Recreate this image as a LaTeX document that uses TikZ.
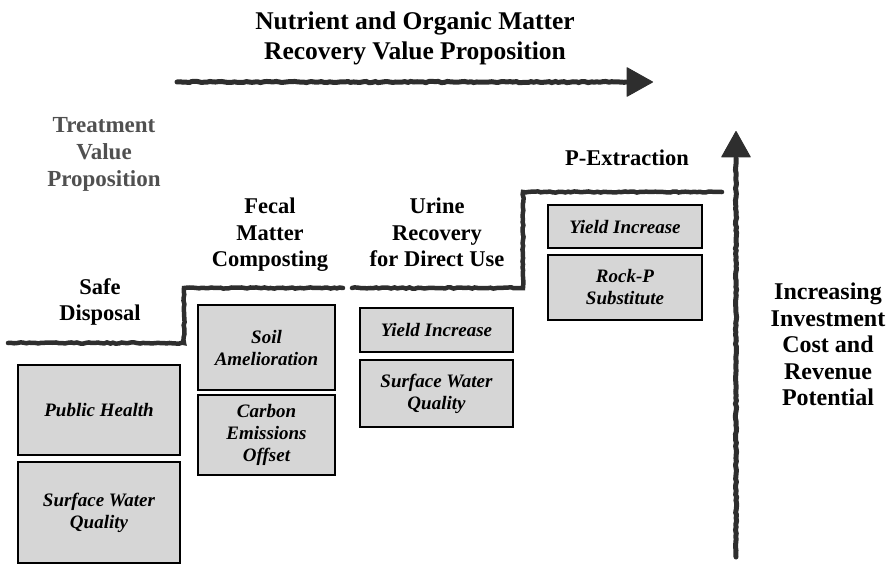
\documentclass[tikz,border=0pt]{standalone}
\usepackage{fontspec}
\setmainfont{Liberation Serif}
\usetikzlibrary{arrows.meta,decorations.pathmorphing}

\definecolor{ink}{HTML}{2E2E2E}
\definecolor{cardfill}{HTML}{D6D6D6}
\definecolor{softtext}{HTML}{505050}

\begin{document}
\begin{tikzpicture}[x=1pt,y=-1pt,
  brush/.style={draw=ink, line width=4.5pt, line cap=round,
    decorate, decoration={random steps, segment length=3pt, amplitude=0.6pt}},
  shaft/.style={brush, line width=5pt},
  tiphead/.style={draw=ink, fill=ink, line width=1pt,
    -{Triangle[length=27pt,width=30pt,round]}},
  title/.style={font=\fontsize{25.5pt}{30pt}\selectfont\bfseries, align=center, anchor=north, inner sep=0pt},
  heading/.style={font=\fontsize{22.5pt}{26.5pt}\selectfont\bfseries, align=center, anchor=north, inner sep=0pt},
  sidetext/.style={font=\fontsize{24pt}{26.5pt}\selectfont\bfseries, align=center, anchor=north, inner sep=0pt},
  card/.style={draw=black, line width=2pt, fill=cardfill, align=center,
    font=\fontsize{19pt}{22pt}\selectfont\bfseries\itshape, inner sep=2pt}
]
\pgfmathsetseed{7}
\useasboundingbox (0,0) rectangle (893,568);

% ---- titles and labels ----
\node[title] (nut) at (415,12) {Nutrient and Organic Matter\\Recovery Value Proposition};
\node[heading, text=softtext, font=\fontsize{23pt}{27pt}\selectfont\bfseries] (treat) at (104,117) {Treatment\\Value\\Proposition};
\node[heading] (safe) at (100,278) {Safe\\Disposal};
\node[heading] (fecal) at (270,198) {Fecal\\Matter\\Composting};
\node[heading] (urine) at (437,198) {Urine\\Recovery\\for Direct Use};
\node[heading] (pext) at (627,150) {P-Extraction};
\node[sidetext] (incr) at (828,283) {Increasing\\Investment\\Cost and\\Revenue\\Potential};

% ---- benefit cards ----
\node[card, minimum width=162pt, minimum height=90pt] (ph) at (99,410) {Public Health};
\node[card, minimum width=162pt, minimum height=101pt] (sw1) at (99,512.5) {Surface Water\\Quality};
\node[card, minimum width=137pt, minimum height=85pt] (soil) at (266.5,347.5) {Soil\\Amelioration};
\node[card, minimum width=137pt, minimum height=80pt] (carb) at (266.5,435) {Carbon\\Emissions\\Offset};
\node[card, minimum width=153pt, minimum height=44pt] (yld1) at (436.5,330) {Yield Increase};
\node[card, minimum width=153pt, minimum height=67pt] (sw2) at (436.5,393.5) {Surface Water\\Quality};
\node[card, minimum width=154pt, minimum height=43pt] (yld2) at (625,226.5) {Yield Increase};
\node[card, minimum width=154pt, minimum height=65pt] (rock) at (625,287.5) {Rock-P\\Substitute};

% ---- staircase of value steps ----
\coordinate (s0) at (8,343);
\coordinate (s1) at (184,343);
\coordinate (s2) at (184,288);
\coordinate (s3) at (343,288);
\coordinate (u0) at (352,288);
\coordinate (u1) at (523,288);
\coordinate (u2) at (523,192);
\coordinate (u3) at (722,192);
\draw[brush] (s0) -- (s1) -- (s2) -- (s3);
\draw[brush] (u0) -- (u1) -- (u2) -- (u3);

% ---- horizontal value arrow ----
\coordinate (hs) at (177,82);
\coordinate (hb) at (626,82);
\coordinate (ht) at (653,82);
\draw[shaft] (hs) -- (hb);
\draw[tiphead] (hb) -- (ht);

% ---- vertical investment arrow ----
\coordinate (vs) at (736,557);
\coordinate (vb) at (736,158);
\coordinate (vt) at (736,131);
\draw[shaft] (vs) -- (vb);
\draw[tiphead] (vb) -- (vt);
\end{tikzpicture}
\end{document}
